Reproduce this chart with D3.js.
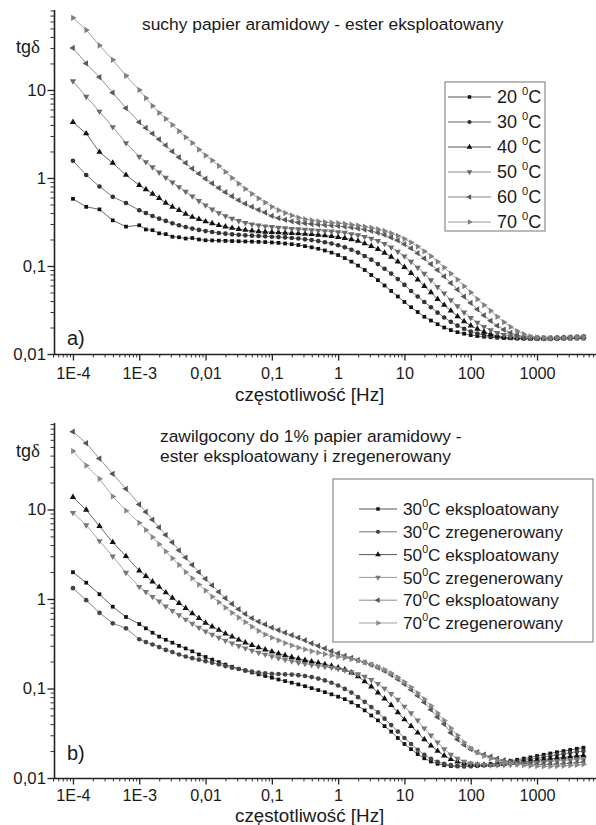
<!DOCTYPE html>
<html><head><meta charset="utf-8">
<script src="https://cdn.jsdelivr.net/npm/d3@7"></script>
<style>
body{margin:0;background:#fff}
svg{display:block}
text{font-family:"Liberation Sans",Arial,sans-serif;fill:#1a1a1a}
</style>
</head><body>
<svg id="chart" width="596" height="825"></svg>
<script>
// ---------- DATA ----------
const freq = [1e-4,1.585e-4,2.512e-4,3.981e-4,6.31e-4,
0.001,0.001259,0.001585,0.001995,0.002512,0.003162,0.003981,0.005012,0.00631,0.007943,
0.01,0.01259,0.01585,0.01995,0.02512,0.03162,0.03981,0.05012,0.0631,0.07943,
0.1,0.1259,0.1585,0.1995,0.2512,0.3162,0.3981,0.5012,0.631,0.7943,
1,1.259,1.585,1.995,2.512,3.162,3.981,5.012,6.31,7.943,
10,12.59,15.85,19.95,25.12,31.62,39.81,50.12,63.1,79.43,
100,125.9,158.5,199.5,251.2,316.2,398.1,501.2,631,794.3,
1000,1259,1585,1995,2512,3162,3981,5012];

// panel a) suchy papier aramidowy - ester eksploatowany
const a20 = [0.58,0.47,0.44,0.33,0.28,
0.29,0.26,0.255,0.235,0.23,0.215,0.212,0.205,0.208,0.20,
0.196,0.195,0.194,0.193,0.192,0.191,0.19,0.189,0.188,0.187,
0.185,0.183,0.18,0.177,0.173,0.168,0.163,0.157,0.15,0.142,
0.133,0.123,0.112,0.101,0.09,0.079,0.069,0.06,0.052,0.045,
0.039,0.034,0.03,0.0265,0.024,0.0218,0.02,0.0187,0.0177,0.017,
0.0164,0.016,0.0157,0.0155,0.0153,0.0152,0.0151,0.015,0.015,0.015,
0.0149,0.0149,0.0149,0.0149,0.015,0.015,0.015,0.015];
const a30 = [1.57,1.08,0.80,0.61,0.52,
0.43,0.40,0.37,0.345,0.325,0.305,0.29,0.277,0.266,0.257,
0.249,0.243,0.237,0.233,0.229,0.226,0.223,0.221,0.219,0.217,
0.215,0.213,0.211,0.208,0.205,0.201,0.197,0.192,0.186,0.18,
0.172,0.163,0.153,0.142,0.13,0.118,0.105,0.093,0.082,0.071,
0.061,0.052,0.045,0.039,0.034,0.0295,0.026,0.0232,0.021,0.0193,
0.018,0.0171,0.0164,0.0159,0.0156,0.0154,0.0152,0.0151,0.015,0.015,
0.015,0.015,0.015,0.015,0.0151,0.0152,0.0153,0.0154];
const a40 = [4.3,3.2,1.97,1.48,1.08,
0.83,0.74,0.66,0.59,0.52,0.47,0.43,0.39,0.36,0.34,
0.32,0.305,0.29,0.28,0.27,0.262,0.256,0.251,0.247,0.244,
0.242,0.24,0.238,0.236,0.234,0.232,0.229,0.226,0.222,0.218,
0.213,0.207,0.20,0.192,0.18,0.168,0.155,0.141,0.127,0.112,
0.097,0.083,0.07,0.059,0.05,0.042,0.036,0.031,0.0268,0.0235,
0.021,0.0192,0.0178,0.0168,0.0161,0.0156,0.0153,0.0152,0.0151,0.015,
0.015,0.015,0.015,0.0151,0.0152,0.0153,0.0154,0.0155];
const a50 = [12.6,8.4,5.7,3.8,2.5,
1.75,1.52,1.33,1.16,1.01,0.89,0.79,0.70,0.62,0.55,
0.49,0.44,0.40,0.37,0.345,0.325,0.31,0.298,0.29,0.283,
0.278,0.273,0.269,0.265,0.262,0.259,0.256,0.253,0.25,0.247,
0.243,0.239,0.231,0.224,0.215,0.205,0.193,0.179,0.163,0.146,
0.129,0.112,0.096,0.082,0.069,0.058,0.049,0.041,0.035,0.0298,
0.0258,0.0227,0.0204,0.0187,0.0174,0.0165,0.0159,0.0155,0.0153,0.0152,
0.0152,0.0151,0.0151,0.0152,0.0153,0.0154,0.0155,0.0156];
const a60 = [30,20,14,9.3,6.2,
4.3,3.7,3.2,2.75,2.35,2.0,1.72,1.48,1.28,1.12,
0.98,0.87,0.77,0.69,0.62,0.56,0.51,0.47,0.435,0.405,
0.37,0.35,0.335,0.322,0.312,0.305,0.30,0.296,0.292,0.288,
0.285,0.28,0.274,0.267,0.259,0.25,0.239,0.226,0.211,0.195,
0.177,0.159,0.14,0.122,0.105,0.09,0.076,0.064,0.054,0.045,
0.038,0.0322,0.0275,0.0238,0.021,0.0189,0.0174,0.0164,0.0158,0.0154,
0.0152,0.0151,0.0151,0.0152,0.0153,0.0154,0.0155,0.0156];
const a70 = [66,48,32,22,14.5,
10,8.1,6.6,5.5,4.7,4.0,3.4,2.9,2.5,2.1,
1.8,1.58,1.37,1.17,1.0,0.86,0.75,0.66,0.585,0.525,
0.47,0.43,0.40,0.375,0.355,0.34,0.33,0.322,0.315,0.31,
0.307,0.301,0.295,0.288,0.28,0.272,0.262,0.25,0.236,0.22,
0.203,0.185,0.166,0.147,0.129,0.112,0.096,0.082,0.07,0.059,
0.05,0.042,0.036,0.031,0.0265,0.023,0.0203,0.0182,0.0168,0.0159,
0.0154,0.0152,0.0151,0.0151,0.0152,0.0153,0.0154,0.0155];

// panel b) zawilgocony do 1% papier aramidowy - ester eksploatowany i zregenerowany
const e30 = [1.99,1.52,1.13,0.82,0.63,
0.525,0.47,0.42,0.38,0.35,0.325,0.30,0.28,0.26,0.24,
0.225,0.21,0.197,0.185,0.175,0.166,0.158,0.151,0.144,0.138,
0.132,0.126,0.121,0.116,0.111,0.106,0.101,0.096,0.091,0.086,
0.081,0.076,0.07,0.064,0.057,0.05,0.044,0.038,0.033,0.028,
0.024,0.021,0.0185,0.0166,0.0153,0.0144,0.0139,0.0136,0.0135,0.0135,
0.0136,0.0138,0.014,0.0143,0.0147,0.0151,0.0156,0.016,0.0165,0.017,
0.0176,0.0182,0.0188,0.0194,0.02,0.0206,0.0212,0.0218];
const z30 = [1.32,0.97,0.70,0.535,0.47,
0.355,0.33,0.31,0.29,0.27,0.255,0.24,0.228,0.218,0.21,
0.202,0.194,0.186,0.178,0.171,0.165,0.16,0.155,0.151,0.148,
0.146,0.145,0.144,0.143,0.141,0.138,0.134,0.129,0.123,0.116,
0.108,0.099,0.09,0.08,0.071,0.062,0.054,0.046,0.039,0.033,
0.028,0.024,0.0207,0.0182,0.0164,0.0152,0.0144,0.0139,0.0136,0.0135,
0.0135,0.0136,0.0138,0.014,0.0143,0.0146,0.015,0.0154,0.0158,0.0162,
0.0166,0.0171,0.0176,0.0181,0.0186,0.0191,0.0196,0.02];
const e50 = [13.7,9.9,6.5,4.3,3.0,
2.07,1.8,1.56,1.36,1.18,1.03,0.9,0.79,0.69,0.61,
0.54,0.49,0.45,0.41,0.38,0.35,0.325,0.305,0.287,0.272,
0.258,0.245,0.234,0.224,0.215,0.207,0.2,0.193,0.186,0.179,
0.171,0.162,0.15,0.136,0.12,0.105,0.09,0.077,0.065,0.054,
0.045,0.038,0.032,0.027,0.023,0.02,0.0178,0.0162,0.0152,0.0146,
0.0142,0.014,0.014,0.014,0.0141,0.0143,0.0146,0.0149,0.0152,0.0155,
0.0158,0.0161,0.0164,0.0167,0.017,0.0173,0.0176,0.0179];
const z50 = [9.2,6.7,4.45,3.0,1.97,
1.37,1.2,1.06,0.94,0.83,0.74,0.66,0.59,0.53,0.48,
0.435,0.40,0.37,0.343,0.32,0.30,0.282,0.266,0.252,0.24,
0.229,0.219,0.21,0.202,0.195,0.189,0.184,0.179,0.175,0.171,
0.166,0.16,0.153,0.145,0.136,0.125,0.113,0.1,0.087,0.075,
0.063,0.053,0.044,0.036,0.03,0.025,0.021,0.0183,0.0165,0.0153,
0.0146,0.0142,0.014,0.0139,0.0139,0.014,0.0141,0.0143,0.0145,0.0147,
0.0149,0.0151,0.0153,0.0155,0.0157,0.0159,0.0161,0.0163];
const e70 = [74,55,37,25,17,
11.4,9.4,7.7,6.3,5.2,4.3,3.5,2.9,2.4,2.0,
1.68,1.42,1.2,1.02,0.88,0.77,0.68,0.61,0.56,0.52,
0.48,0.45,0.42,0.395,0.37,0.345,0.32,0.30,0.28,0.262,
0.246,0.232,0.22,0.208,0.196,0.184,0.171,0.157,0.142,0.127,
0.112,0.097,0.083,0.07,0.058,0.048,0.04,0.032,0.027,0.0235,
0.021,0.0195,0.0183,0.0173,0.0165,0.0158,0.0152,0.0148,0.0145,0.0143,
0.0142,0.0142,0.0142,0.0143,0.0144,0.0146,0.0148,0.015];
const z70 = [45,31,22,14,9.7,
7.1,5.9,4.9,4.1,3.4,2.85,2.4,2.0,1.7,1.45,
1.24,1.06,0.92,0.8,0.7,0.62,0.55,0.49,0.44,0.40,
0.37,0.345,0.322,0.303,0.287,0.273,0.261,0.251,0.242,0.234,
0.227,0.22,0.213,0.205,0.196,0.186,0.175,0.162,0.148,0.133,
0.118,0.103,0.089,0.076,0.064,0.053,0.044,0.036,0.030,0.025,
0.0215,0.0192,0.0176,0.0165,0.0157,0.0151,0.0146,0.0142,0.0139,0.0137,
0.0136,0.0135,0.0135,0.0136,0.0137,0.0138,0.014,0.0142];

const legendA = ["20","30","40","50","60","70"];
const legendB = [["30","eksploatowany"],["30","zregenerowany"],["50","eksploatowany"],
                 ["50","zregenerowany"],["70","eksploatowany"],["70","zregenerowany"]];
const xTickValues = [1e-4,1e-3,0.01,0.1,1,10,100,1000];
const xTickLabels = ["1E-4","1E-3","0,01","0,1","1","10","100","1000"];
const yTickValues = [0.01,0.1,1,10];
const yTickLabels = ["0,01","0,1","1","10"];
const titleA = ["suchy papier aramidowy - ester eksploatowany"];
const titleB = ["zawilgocony do 1% papier aramidowy -","ester eksploatowany i zregenerowany"];
const xLabel = "częstotliwość [Hz]";

// ---------- STYLES ----------
const tri = d3.symbolTriangle;
const stylesA = [
  {sym:d3.symbolSquare, rot:0,   fill:"#111", line:"#555"},
  {sym:d3.symbolCircle, rot:0,   fill:"#333", line:"#666"},
  {sym:tri,             rot:0,   fill:"#111", line:"#555"},
  {sym:tri,             rot:180, fill:"#6a6a6a", line:"#8a8a8a"},
  {sym:tri,             rot:-90, fill:"#5a5a5a", line:"#858585"},
  {sym:tri,             rot:90,  fill:"#808080", line:"#9a9a9a"}
];
const stylesB = [
  {sym:d3.symbolSquare, rot:0,   fill:"#111", line:"#555"},
  {sym:d3.symbolCircle, rot:0,   fill:"#444", line:"#777"},
  {sym:tri,             rot:0,   fill:"#111", line:"#555"},
  {sym:tri,             rot:180, fill:"#777", line:"#999"},
  {sym:tri,             rot:-90, fill:"#555", line:"#888"},
  {sym:tri,             rot:90,  fill:"#888", line:"#a0a0a0"}
];
const symSize = {square:14, other:17};

const svg = d3.select("#chart");
const x = d3.scaleLog().domain([5e-5, 8000]).range([53, 596.9]);

function minorTicks(dom){
  const out=[]; const lo=Math.floor(Math.log10(dom[0])), hi=Math.ceil(Math.log10(dom[1]));
  for(let e=lo;e<=hi;e++) for(let m=2;m<=9;m++){const v=m*Math.pow(10,e); if(v>=dom[0]&&v<=dom[1]) out.push(v);}
  return out;
}

function panel(cfg){
  const g = svg.append("g");
  const y = d3.scaleLog().domain(cfg.yDomain).range(cfg.yRange);
  const x0 = 54, yb = cfg.yRange[0];

  // minor ticks
  g.append("g").attr("transform",`translate(0,${yb})`)
    .call(d3.axisBottom(x).tickValues(minorTicks(x.domain())).tickSize(3.5).tickFormat(""))
    .call(s=>{s.select(".domain").remove(); s.selectAll("line").attr("stroke","#333").attr("stroke-width",1);});
  g.append("g").attr("transform",`translate(${x0},0)`)
    .call(d3.axisLeft(y).tickValues(minorTicks(y.domain())).tickSize(3.5).tickFormat(""))
    .call(s=>{s.select(".domain").remove(); s.selectAll("line").attr("stroke","#333").attr("stroke-width",1);});
  // major
  const xa = g.append("g").attr("transform",`translate(0,${yb})`)
    .call(d3.axisBottom(x).tickValues(xTickValues).tickSize(6.5).tickSizeOuter(0)
      .tickFormat((d,i)=>xTickLabels[i]));
  xa.select(".domain").attr("stroke","#222").attr("stroke-width",1.6).attr("d",`M${x0},0.5H596`);
  xa.selectAll(".tick line").attr("stroke","#222").attr("stroke-width",1.3);
  xa.selectAll(".tick text").attr("font-size",16.3).attr("font-family","Liberation Sans").attr("fill","#1a1a1a")
    .attr("dy",null).attr("y",cfg.xTickBase);
  const ya = g.append("g").attr("transform",`translate(${x0},0)`)
    .call(d3.axisLeft(y).tickValues(yTickValues).tickSize(6.5).tickSizeOuter(0)
      .tickFormat((d,i)=>yTickLabels[i]));
  ya.select(".domain").attr("stroke","#222").attr("stroke-width",1.6).attr("d",`M0.5,${cfg.yRange[1]}V${yb+0.8}`);
  ya.selectAll(".tick line").attr("stroke","#222").attr("stroke-width",1.3);
  ya.selectAll(".tick text").attr("font-size",16.8).attr("font-family","Liberation Sans").attr("fill","#1a1a1a").attr("x",-8);

  // series
  const line = d3.line().x((d,i)=>x(freq[i])).y(d=>y(d));
  cfg.series.forEach((vals,k)=>{
    const st = cfg.styles[k];
    g.append("path").datum(vals).attr("d",line).attr("fill","none")
      .attr("stroke",st.line).attr("stroke-width",0.9);
  });
  cfg.series.forEach((vals,k)=>{
    const st = cfg.styles[k];
    const sp = d3.symbol().type(st.sym).size(st.sym===d3.symbolSquare?symSize.square:symSize.other);
    g.append("g").selectAll("path").data(vals).join("path")
      .attr("d",sp)
      .attr("transform",(d,i)=>`translate(${x(freq[i])},${y(d)}) rotate(${st.rot})`)
      .attr("fill",st.fill);
  });

  // axis titles
  const yl = g.append("text").attr("x",16).attr("y",cfg.yLabelY).attr("font-size",18);
  yl.append("tspan").text("tg");
  yl.append("tspan").attr("font-family","Liberation Serif").attr("font-size",19).text("δ");
  g.append("text").attr("x",235).attr("y",cfg.xLabelY).attr("font-size",18.8).text(xLabel);
  g.append("text").attr("x",67).attr("y",cfg.letterY).attr("font-size",20).text(cfg.letter);
  // titles
  cfg.title.forEach((t,i)=>g.append("text").attr("x",cfg.titleX).attr("y",cfg.titleY+i*20)
    .attr("font-size",17.4).text(t));

  // legend
  const L = cfg.legend;
  g.append("rect").attr("x",L.x).attr("y",L.y).attr("width",L.w).attr("height",L.h)
    .attr("fill","#fff").attr("stroke","#8a8a8a").attr("stroke-width",1.2);
  cfg.legendItems.forEach((it,k)=>{
    const st = cfg.styles[k];
    const cy = L.firstY + k*L.step;
    g.append("line").attr("x1",L.lx1).attr("x2",L.lx2).attr("y1",cy).attr("y2",cy)
      .attr("stroke",st.line).attr("stroke-width",1);
    const sp = d3.symbol().type(st.sym).size(st.sym===d3.symbolSquare?12:14);
    g.append("path").attr("d",sp).attr("transform",`translate(${(L.lx1+L.lx2)/2},${cy}) rotate(${st.rot})`).attr("fill",st.fill);
    const t = g.append("text").attr("x",L.tx).attr("y",cy+L.fs*0.36).attr("font-size",L.fs);
    if(cfg.legendSpace){
      t.append("tspan").text(it+" ");
      t.append("tspan").attr("font-size",L.fs*0.62).attr("dy",-L.fs*0.45).text("0");
      t.append("tspan").attr("dy",L.fs*0.45).text("C");
    } else {
      t.append("tspan").text(it[0]);
      t.append("tspan").attr("font-size",L.fs*0.62).attr("dy",-L.fs*0.45).text("0");
      t.append("tspan").attr("dy",L.fs*0.45).text("C "+it[1]);
    }
  });
}

panel({
  yDomain:[0.01,81], yRange:[354,10],
  series:[a20,a30,a40,a50,a60,a70], styles:stylesA,
  yLabelY:53, xLabelY:401, xTickBase:25, letter:"a)", letterY:345,
  title:titleA, titleX:142, titleY:30,
  legend:{x:445,y:82,w:100,h:149,firstY:97,step:25,lx1:448,lx2:491,tx:497,fs:18},
  legendItems:legendA, legendSpace:true
});
panel({
  yDomain:[0.01,92.5], yRange:[778,423],
  series:[e30,z30,e50,z50,e70,z70], styles:stylesB,
  yLabelY:457, xLabelY:821.5, xTickBase:22.5, letter:"b)", letterY:760,
  title:titleB, titleX:160, titleY:442,
  legend:{x:333,y:479,w:260,h:163,firstY:509,step:22.8,lx1:359,lx2:397,tx:403,fs:17.2},
  legendItems:legendB, legendSpace:false
});
</script>
</body></html>
